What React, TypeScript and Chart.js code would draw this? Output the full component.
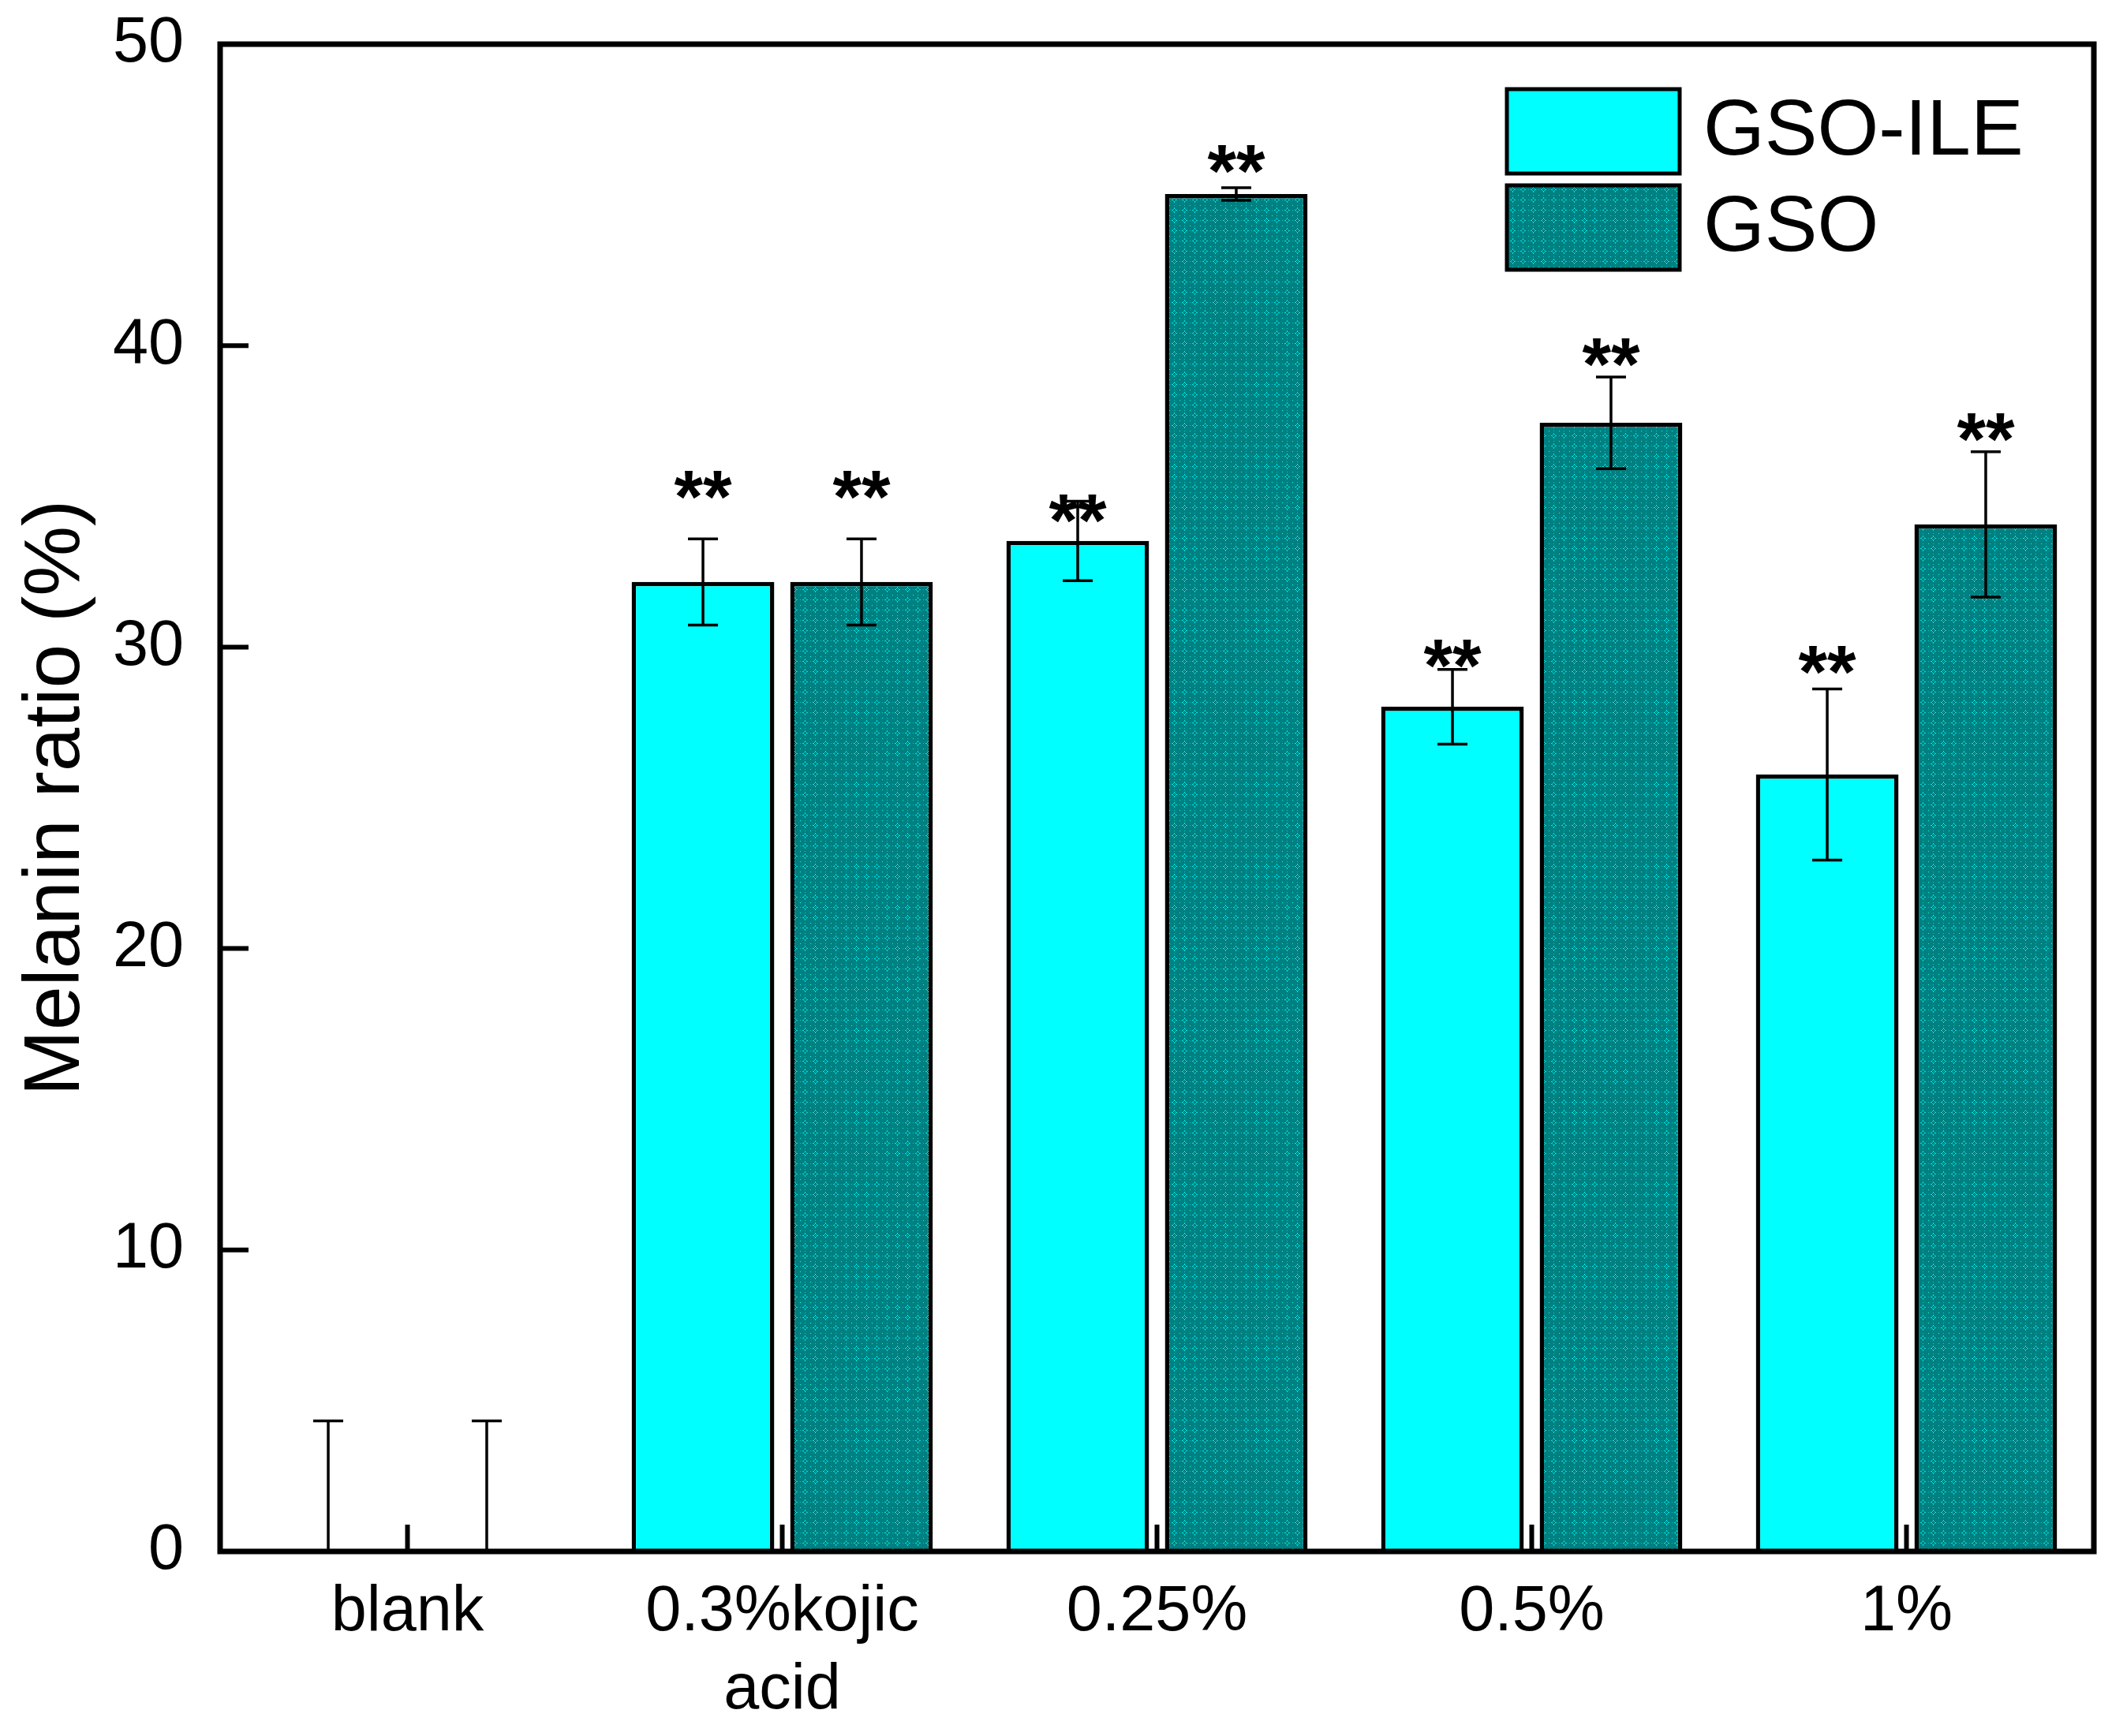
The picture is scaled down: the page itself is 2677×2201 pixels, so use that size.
import React, { useEffect, useRef } from 'react'
import { Chart, registerables } from 'chart.js'

Chart.register(...registerables)

const categories: (string | string[])[] = ['blank', ['0.3%kojic', 'acid'], '0.25%', '0.5%', '1%']
const seriesNames = ['GSO-ILE', 'GSO']
const gsoIleValues = [0, 32.16, 33.52, 28.02, 25.77]
const gsoIleErrors = [4.33, 1.43, 1.32, 1.24, 2.84]
const gsoValues = [0, 32.16, 45.03, 37.44, 34.07]
const gsoErrors = [4.33, 1.43, 0.21, 1.52, 2.41]
// centre of the "**" marks, in data units (null = no mark)
const gsoIleStars = [null, 35.5, 34.7, 29.9, 29.7]
const gsoStars = [null, 35.5, 46.3, 39.9, 37.4]
const yTickValues = [0, 10, 20, 30, 40, 50]

const FONT = "'Liberation Sans', Arial, sans-serif"

function makeDotPattern(ctx: CanvasRenderingContext2D) {
	const tile = document.createElement('canvas')
	tile.width = 13
	tile.height = 13
	const t = tile.getContext('2d')!
	t.fillStyle = '#008080'
	t.fillRect(0, 0, 13, 13)
	const px = (x: number, y: number, c: string) => {
		t.fillStyle = c
		t.fillRect(x, y, 1, 1)
	}
	for (let dx = -2; dx <= 2; dx++) {
		for (let dy = -2; dy <= 2; dy++) {
			if (Math.abs(dx) + Math.abs(dy) > 2) continue
			px(6 + dx, 6 + dy, (dx + dy) % 2 === 0 ? '#00ffff' : '#000000')
		}
	}
	px(6, 3, '#00e0e0')
	px(6, 9, '#00e0e0')
	px(3, 6, '#00e0e0')
	px(9, 6, '#00e0e0')
	px(0, 0, '#00ffff')
	px(0, 6, '#00c8c8')
	px(6, 0, '#00c8c8')
	return ctx.createPattern(tile, 'repeat')!
}

const errorBarPlugin = {
	id: 'errorBars',
	afterDatasetsDraw(chart: any) {
		const { ctx, chartArea: a, scales } = chart
		const y = scales.y
		ctx.save()
		ctx.beginPath()
		ctx.rect(a.left, a.top, a.right - a.left, a.bottom - a.top)
		ctx.clip()
		ctx.strokeStyle = '#000'
		ctx.lineWidth = 3.5
		chart.data.datasets.forEach((ds: any, d: number) => {
			const meta = chart.getDatasetMeta(d)
			meta.data.forEach((bar: any, i: number) => {
				const v = ds.data[i]
				const e = ds.errors[i]
				const yHi = y.getPixelForValue(v + e)
				const yLo = y.getPixelForValue(v - e)
				const cap = 19
				ctx.beginPath()
				ctx.moveTo(bar.x, yLo)
				ctx.lineTo(bar.x, yHi)
				ctx.moveTo(bar.x - cap, yHi)
				ctx.lineTo(bar.x + cap, yHi)
				ctx.moveTo(bar.x - cap, yLo)
				ctx.lineTo(bar.x + cap, yLo)
				ctx.stroke()
			})
		})
		ctx.restore()
	},
}

const starPlugin = {
	id: 'stars',
	afterDatasetsDraw(chart: any) {
		const { ctx, scales } = chart
		const size = 94
		ctx.save()
		ctx.fillStyle = '#000'
		ctx.font = `bold ${size}px ${FONT}`
		ctx.textAlign = 'center'
		ctx.textBaseline = 'alphabetic'
		chart.data.datasets.forEach((ds: any, d: number) => {
			const meta = chart.getDatasetMeta(d)
			meta.data.forEach((bar: any, i: number) => {
				const s = ds.stars[i]
				if (s === null || s === undefined) return
				ctx.fillText('**', bar.x, scales.y.getPixelForValue(s) + 0.55 * size)
			})
		})
		ctx.restore()
	},
}

const framePlugin = {
	id: 'frame',
	afterDatasetsDraw(chart: any) {
		const { ctx, chartArea: a, scales } = chart
		ctx.save()
		ctx.strokeStyle = '#000'
		ctx.lineWidth = 6
		ctx.beginPath()
		scales.y.ticks.forEach((t: any) => {
			const yy = scales.y.getPixelForValue(t.value)
			ctx.moveTo(a.left, yy)
			ctx.lineTo(a.left + 36, yy)
		})
		scales.x.ticks.forEach((_t: any, i: number) => {
			const xx = scales.x.getPixelForTick(i)
			ctx.moveTo(xx, a.bottom)
			ctx.lineTo(xx, a.bottom - 34)
		})
		ctx.stroke()
		ctx.lineWidth = 7
		ctx.strokeRect(a.left, a.top, a.right - a.left, a.bottom - a.top)
		ctx.restore()
	},
}

const legendPlugin = {
	id: 'boxLegend',
	afterDraw(chart: any) {
		const { ctx, chartArea: a } = chart
		const w = 219
		const h = 107
		const x = a.right - 744
		ctx.save()
		chart.data.datasets.forEach((ds: any, i: number) => {
			const y = a.top + 57 + i * 122
			ctx.fillStyle = ds.backgroundColor
			ctx.fillRect(x, y, w, h)
			ctx.lineWidth = 5
			ctx.strokeStyle = '#000'
			ctx.strokeRect(x, y, w, h)
			ctx.fillStyle = '#000'
			ctx.font = `100px ${FONT}`
			ctx.textAlign = 'left'
			ctx.textBaseline = 'middle'
			ctx.fillText(ds.label, x + w + 30, y + h / 2 + 2)
		})
		ctx.restore()
	},
}

const App: React.FC = () => {
	const chartRef = useRef<HTMLCanvasElement>(null)

	useEffect(() => {
		document.body.style.margin = '0'
		document.body.style.overflow = 'hidden'
		if (!chartRef.current) return
		const context = chartRef.current.getContext('2d')
		if (!context) return
		const teal = makeDotPattern(context)

		const chart = new Chart(context, {
			type: 'bar',
			data: {
				labels: categories,
				datasets: [
					{
						label: seriesNames[0],
						data: gsoIleValues,
						errors: gsoIleErrors,
						stars: gsoIleStars,
						backgroundColor: '#00ffff',
						borderColor: '#000',
						borderWidth: gsoIleValues.map((v) => (v === 0 ? 0 : 5.5)),
						categoryPercentage: 0.846,
						barPercentage: 0.9,
					} as any,
					{
						label: seriesNames[1],
						data: gsoValues,
						errors: gsoErrors,
						stars: gsoStars,
						backgroundColor: teal,
						borderColor: '#000',
						borderWidth: gsoValues.map((v) => (v === 0 ? 0 : 5.5)),
						categoryPercentage: 0.846,
						barPercentage: 0.9,
					} as any,
				],
			},
			options: {
				animation: false,
				responsive: false,
				devicePixelRatio: 1,
				layout: { padding: { left: 0, right: 23, top: 56, bottom: 0 } },
				plugins: {
					legend: { display: false },
					tooltip: { enabled: false },
				},
				scales: {
					x: {
						offset: true,
						grid: { display: false, drawTicks: false },
						border: { display: false },
						ticks: {
							color: '#000',
							padding: 28,
							maxRotation: 0,
							autoSkip: false,
							font: { family: FONT, size: 81, lineHeight: 1.22 },
						},
						afterFit: (s: any) => {
							s.height = 234
							s.paddingLeft = 0
							s.paddingRight = 0
						},
					},
					y: {
						min: 0,
						max: 50,
						grid: { display: false, drawTicks: false },
						border: { display: false },
						afterBuildTicks: (s: any) => {
							s.ticks = yTickValues.map((v) => ({ value: v }))
						},
						ticks: {
							color: '#000',
							padding: 46,
							font: { family: FONT, size: 81 },
						},
						title: {
							display: true,
							text: 'Melanin ratio (%)',
							color: '#000',
							font: { family: FONT, size: 100, lineHeight: 1.2 },
							padding: { top: 12, bottom: 0 },
						},
						afterFit: (s: any) => {
							s.width = 279
							s.paddingTop = 0
							s.paddingBottom = 0
						},
					},
				},
			},
			plugins: [errorBarPlugin, starPlugin, framePlugin, legendPlugin],
		})

		return () => {
			chart.destroy()
		}
	}, [])

	return (
		<div style={{ position: 'absolute', left: 0, top: 0, width: 2677, height: 2201, background: '#fff' }}>
			<canvas
				ref={chartRef}
				width={2677}
				height={2201}
				style={{ display: 'block', width: 2677, height: 2201 }}
			/>
		</div>
	)
}

export default App
